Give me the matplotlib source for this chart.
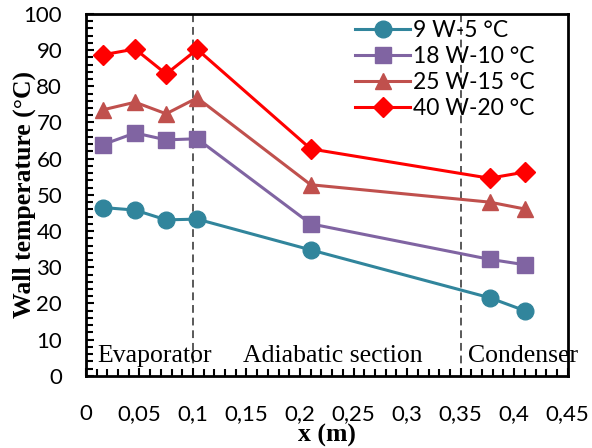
"""Wall temperature along the heat pipe."""
import matplotlib
matplotlib.use('Agg')
import matplotlib.pyplot as plt
from matplotlib.ticker import MultipleLocator, FuncFormatter

x_pos = [0.016, 0.046, 0.075, 0.104, 0.21, 0.377, 0.41]

t_9w = [46.5, 45.8, 43.1, 43.3, 34.8, 21.6, 18.0]
t_18w = [63.9, 67.1, 65.2, 65.5, 42.0, 32.2, 30.7]
t_25w = [73.5, 75.6, 72.4, 76.8, 52.8, 48.0, 46.1]
t_40w = [88.7, 90.3, 83.4, 90.2, 62.7, 54.6, 56.3]

series_labels = ['9 W-5 °C', '18 W-10 °C', '25 W-15 °C', '40 W-20 °C']
section_bounds = [0.1, 0.35]
section_names = ['Evaporator', 'Adiabatic section', 'Condenser']
section_x = [0.011, 0.147, 0.357]

colors = ['#31859C', '#8064A2', '#C0504D', '#FF0000']
markers = ['o', 's', '^', 'D']
msizes = [12, 11.5, 12, 10]

fig = plt.figure(figsize=(5.92, 4.48), dpi=100)
ax = fig.add_axes([0.145, 0.161, 0.814, 0.808])

for xb in section_bounds:
    ax.axvline(xb, color='#595959', linestyle=(0, (4, 2.5)), linewidth=1.4,
               zorder=1)

for ys, lab, c, m, ms in zip([t_9w, t_18w, t_25w, t_40w], series_labels,
                             colors, markers, msizes):
    ax.plot(x_pos, ys, color=c, marker=m, markersize=ms, linewidth=2.2,
            label=lab, zorder=3)

for name, xs in zip(section_names, section_x):
    ax.text(xs, 3.9, name, fontsize=18.5, family='Liberation Serif',
            va='baseline', ha='left', clip_on=False)

ax.set_xlim(0, 0.45)
ax.set_ylim(0, 100)
ax.xaxis.set_major_locator(MultipleLocator(0.05))
ax.xaxis.set_minor_locator(MultipleLocator(0.01))
ax.yaxis.set_major_locator(MultipleLocator(10))
ax.yaxis.set_minor_locator(MultipleLocator(2))


def _fmt(v, pos):
    s = ('%.2f' % v).rstrip('0').rstrip('.')
    return s.replace('.', ',')


ax.xaxis.set_major_formatter(FuncFormatter(_fmt))
ax.tick_params(axis='both', which='both', direction='in', width=1.5,
               labelsize=16)
ax.tick_params(axis='both', which='major', length=6)
ax.tick_params(axis='both', which='minor', length=5)
ax.tick_params(axis='x', which='major', pad=20)
ax.tick_params(axis='y', which='major', pad=17)
for lab in ax.get_xticklabels() + ax.get_yticklabels():
    lab.set_family('Lato')
for sp in ax.spines.values():
    sp.set_linewidth(2.0)

ax.set_xlabel('x (m)', fontsize=18.5, fontweight='bold',
              family='Liberation Serif', labelpad=0)
ax.set_ylabel('Wall temperature (°C)', fontsize=18.5, fontweight='bold',
              family='Liberation Serif')
ax.yaxis.set_label_coords(-0.104, 0.5)

ax.legend(loc='upper left', bbox_to_anchor=(0.6, 0.955),
          bbox_transform=fig.transFigure, frameon=False,
          prop={'family': 'Lato', 'size': 16.5}, handlelength=2.4,
          handletextpad=0.12, labelspacing=0.22, borderpad=0,
          borderaxespad=0)

fig.savefig('out.png', dpi=100)
